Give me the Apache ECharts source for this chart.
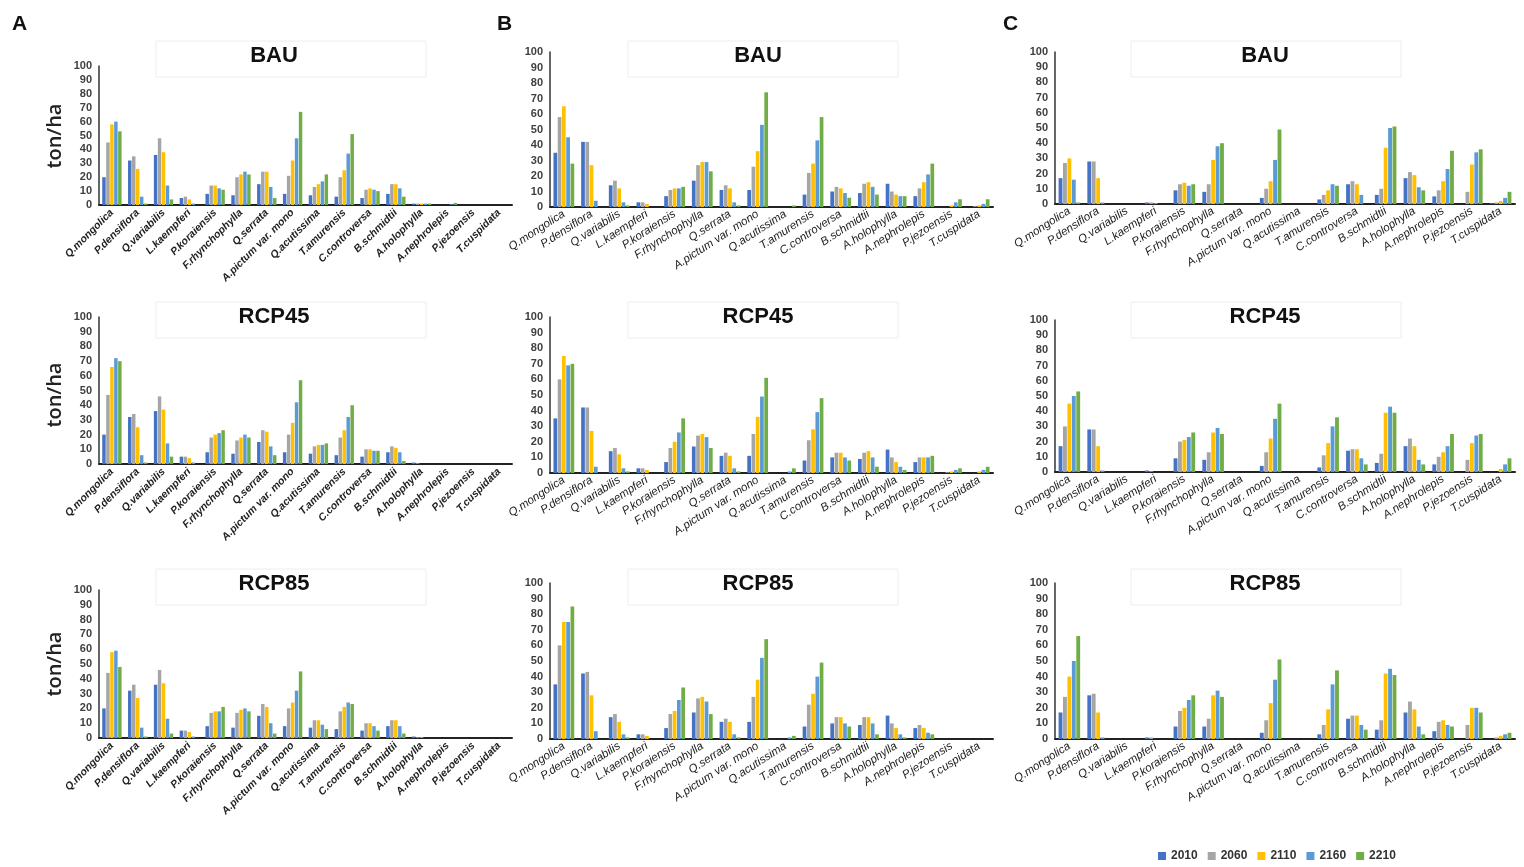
<!DOCTYPE html>
<html>
<head>
<meta charset="utf-8">
<title>Biomass by species</title>
<script src="https://cdn.jsdelivr.net/npm/echarts@6/dist/echarts.min.js"></script>
<style>
  html, body { margin: 0; padding: 0; background: #fff; }
  #main { width: 1524px; height: 867px; }
</style>
</head>
<body>
<div id="main"></div>
<script>
var species = ['Q.mongolica', 'P.densiflora', 'Q.variabilis', 'L.kaempferi', 'P.koraiensis',
  'F.rhynchophylla', 'Q.serrata', 'A.pictum var. mono', 'Q.acutissima', 'T.amurensis',
  'C.controversa', 'B.schmidtii', 'A.holophylla', 'A.nephrolepis', 'P.jezoensis', 'T.cuspidata'];
var years = ['2010', '2060', '2110', '2160', '2210'];
var scenarios = ['BAU', 'RCP45', 'RCP85'];
var yTicks = [0, 100, 10]; // min, max, step

// one row per species, one column per year (2010..2210), ton/ha
var aBAU = [
  [20, 45, 58, 60, 53], [32, 35, 26, 6, 1], [36, 48, 38, 14, 4], [5, 6, 4, 1, 0],
  [8, 14, 14, 12, 11], [7, 20, 22, 24, 22], [15, 24, 24, 13, 5], [8, 21, 32, 48, 67],
  [7, 13, 15, 17, 22], [6, 20, 25, 37, 51], [5, 11, 12, 11, 10], [8, 15, 15, 12, 6],
  [1, 1, 1, 1, 1], [0, 0, 0, 0.5, 1.5], [0, 0, 0, 0, 0], [0, 0, 0, 0, 0]
];
var aRCP45 = [
  [20, 47, 66, 72, 70], [32, 34, 25, 6, 1], [36, 46, 37, 14, 5], [5, 5, 4, 1, 0],
  [8, 18, 20, 21, 23], [7, 16, 18, 20, 18], [15, 23, 22, 12, 6], [8, 20, 28, 42, 57],
  [7, 12, 13, 13, 14], [6, 18, 23, 32, 40], [5, 10, 10, 9, 9], [8, 12, 11, 8, 2],
  [1, 0.5, 0, 0, 0], [0, 0, 0, 0, 0], [0, 0, 0, 0, 0], [0, 0, 0, 0, 0]
];
var aRCP85 = [
  [20, 44, 58, 59, 48], [32, 36, 27, 7, 1], [36, 46, 37, 13, 3], [5, 5, 4, 1, 0],
  [8, 17, 18, 18, 21], [7, 17, 19, 20, 18], [15, 23, 21, 10, 3], [8, 20, 24, 32, 45],
  [7, 12, 12, 9, 6], [6, 18, 21, 24, 23], [5, 10, 10, 8, 5], [8, 12, 12, 8, 3],
  [1, 0.5, 0.5, 0, 0], [0, 0, 0, 0, 0], [0, 0, 0, 0, 0], [0, 0, 0, 0, 0]
];
var bBAU = [
  [35, 58, 65, 45, 28], [42, 42, 27, 4, 0], [14, 17, 12, 3, 1], [3, 3, 2, 0, 0],
  [7, 11, 12, 12, 13], [17, 27, 29, 29, 23], [11, 14, 12, 3, 1], [11, 26, 36, 53, 74],
  [0, 0, 0, 0, 1], [8, 22, 28, 43, 58], [10, 13, 12, 9, 6], [9, 15, 16, 13, 8],
  [15, 10, 8, 7, 7], [7, 12, 16, 21, 28], [0, 0, 1, 3, 5], [0, 0.5, 1, 2, 5]
];
var bRCP45 = [
  [35, 60, 75, 69, 70], [42, 42, 27, 4, 0], [14, 16, 12, 3, 1], [3, 3, 2, 0, 0],
  [7, 16, 20, 26, 35], [17, 24, 25, 23, 16], [11, 13, 11, 3, 1], [11, 25, 36, 49, 61],
  [0, 0, 0, 1, 3], [8, 21, 28, 39, 48], [10, 13, 13, 10, 8], [9, 13, 14, 10, 4],
  [15, 10, 7, 4, 2], [7, 10, 10, 10, 11], [0, 0.5, 1, 2, 3], [0, 0, 1, 2, 4]
];
var bRCP85 = [
  [35, 60, 75, 75, 85], [42, 43, 28, 5, 0], [14, 16, 11, 3, 1], [3, 3, 2, 0, 0],
  [7, 16, 18, 25, 33], [17, 26, 27, 24, 16], [11, 13, 11, 3, 1], [11, 27, 38, 52, 64],
  [0, 0, 0, 1, 2], [8, 22, 29, 40, 49], [10, 14, 14, 10, 8], [9, 14, 14, 10, 3],
  [15, 10, 7, 3, 1], [7, 9, 7, 4, 3], [0, 0, 0, 0, 0], [0, 0, 0, 0, 0]
];
var cBAU = [
  [17, 27, 30, 16, 1], [28, 28, 17, 1, 0], [0, 0, 0, 0, 0], [1, 1, 0.5, 0, 0],
  [9, 13, 14, 12, 13], [8, 13, 29, 38, 40], [0, 0, 0, 0, 0], [4, 10, 15, 29, 49],
  [0, 0, 0, 0, 0], [3, 6, 9, 13, 12], [13, 15, 13, 6, 0], [6, 10, 37, 50, 51],
  [17, 21, 19, 11, 9], [5, 9, 15, 23, 35], [0, 8, 26, 34, 36], [0.5, 1, 2, 4, 8]
];
var cRCP45 = [
  [17, 30, 45, 50, 53], [28, 28, 17, 1, 0], [0, 0, 0, 0, 0], [1, 0.5, 0, 0, 0],
  [9, 20, 21, 23, 26], [8, 13, 26, 29, 25], [0, 0, 0, 0, 0], [4, 13, 22, 35, 45],
  [0, 0, 0, 0, 0], [3, 11, 19, 30, 36], [14, 15, 15, 9, 5], [6, 12, 39, 43, 39],
  [17, 22, 17, 8, 5], [5, 10, 13, 17, 25], [0, 8, 19, 24, 25], [0, 0, 2, 5, 9]
];
var cRCP85 = [
  [17, 27, 40, 50, 66], [28, 29, 17, 1, 0], [0, 0, 0, 0, 0], [1, 1, 0, 0, 0],
  [8, 18, 20, 25, 28], [8, 13, 28, 31, 27], [0, 0, 0, 0, 0], [4, 12, 23, 38, 51],
  [0, 0, 0, 0, 0], [3, 9, 19, 35, 44], [13, 15, 15, 9, 6], [6, 12, 42, 45, 41],
  [17, 24, 19, 8, 3], [5, 11, 12, 9, 8], [0, 9, 20, 20, 17], [0, 1, 2, 3, 4]
];

var colors = ['#4472C4', '#A5A5A5', '#FFC000', '#5B9BD5', '#70AD47'];

// panels: column A/B/C x rows BAU/RCP45/RCP85
var panels = [
  { col: 0, row: 0, data: aBAU,   left: 99,   top: 66,  width: 413, height: 139 },
  { col: 0, row: 1, data: aRCP45, left: 99,   top: 317, width: 413, height: 147 },
  { col: 0, row: 2, data: aRCP85, left: 99,   top: 590, width: 413, height: 148 },
  { col: 1, row: 0, data: bBAU,   left: 550,  top: 52,  width: 443, height: 155 },
  { col: 1, row: 1, data: bRCP45, left: 550,  top: 317, width: 443, height: 156 },
  { col: 1, row: 2, data: bRCP85, left: 550,  top: 583, width: 443, height: 156 },
  { col: 2, row: 0, data: cBAU,   left: 1055, top: 52,  width: 460, height: 152 },
  { col: 2, row: 1, data: cRCP45, left: 1055, top: 320, width: 460, height: 152 },
  { col: 2, row: 2, data: cRCP85, left: 1055, top: 583, width: 460, height: 156 }
];
var boxX = [291, 763, 1266];
var textX = [274, 758, 1265];
var titleY = [41, 302, 569];

var font = 'Liberation Sans, Arial, sans-serif';
var grids = [], xAxes = [], yAxes = [], series = [], graphics = [];

panels.forEach(function (p, i) {
  var isA = p.col === 0;
  grids.push({ left: p.left, top: p.top, width: p.width, height: p.height });
  xAxes.push({
    type: 'category', gridIndex: i, data: species,
    axisLine: { lineStyle: { color: '#222', width: 2 } },
    axisTick: { show: false },
    axisLabel: {
      interval: 0, rotate: isA ? 45 : 33, margin: 6,
      fontSize: isA ? 10.5 : 11.5, fontStyle: 'italic',
      fontWeight: isA ? 'bold' : 'normal',
      color: '#222', fontFamily: font
    }
  });
  yAxes.push({
    type: 'value', gridIndex: i, min: yTicks[0], max: yTicks[1], interval: yTicks[2],
    axisLine: { show: true, lineStyle: { color: '#333', width: 1.5 } },
    axisTick: { show: false },
    splitLine: { show: false },
    axisLabel: { fontSize: 11, fontWeight: 'bold', color: '#404040', margin: 7, fontFamily: font }
  });
  years.forEach(function (yr, k) {
    series.push({
      name: yr, type: 'bar', xAxisIndex: i, yAxisIndex: i,
      barGap: '15%', barCategoryGap: '25%',
      itemStyle: { color: colors[k] },
      data: p.data.map(function (row) { return row[k]; })
    });
  });
  // faint title box + scenario title
  var ty = titleY[p.row];
  graphics.push({
    type: 'rect', shape: { x: boxX[p.col] - 135, y: ty, width: 270, height: 36 },
    style: { fill: 'none', stroke: '#eeeeee', lineWidth: 1 }, silent: true
  });
  graphics.push({
    type: 'text', x: textX[p.col], y: ty + 15,
    style: { text: scenarios[p.row], fontSize: 22, fontWeight: 'bold', fill: '#111',
      align: 'center', verticalAlign: 'middle', fontFamily: font }
  });
});

['A', 'B', 'C'].forEach(function (letter, c) {
  graphics.push({
    type: 'text', x: [12, 497, 1003][c], y: 14,
    style: { text: letter, fontSize: 21, fontWeight: 'bold', fill: '#111', fontFamily: font }
  });
});

[136, 395, 664].forEach(function (y) {
  graphics.push({
    type: 'text', x: 55, y: y, rotation: Math.PI / 2,
    style: { text: 'ton/ha', fontSize: 20, fill: '#222', align: 'center', verticalAlign: 'middle',
      fontFamily: 'Open Sans, sans-serif', fontWeight: 600 }
  });
});

var chart = echarts.init(document.getElementById('main'));
chart.setOption({
  animation: false,
  grid: grids,
  xAxis: xAxes,
  yAxis: yAxes,
  series: series,
  graphic: graphics,
  legend: {
    data: years, left: 1153, top: 845, icon: 'rect', itemWidth: 8, itemHeight: 8, itemGap: 10,
    textStyle: { fontSize: 12, fontWeight: 'bold', color: '#333', fontFamily: font }
  }
});
</script>
</body>
</html>
